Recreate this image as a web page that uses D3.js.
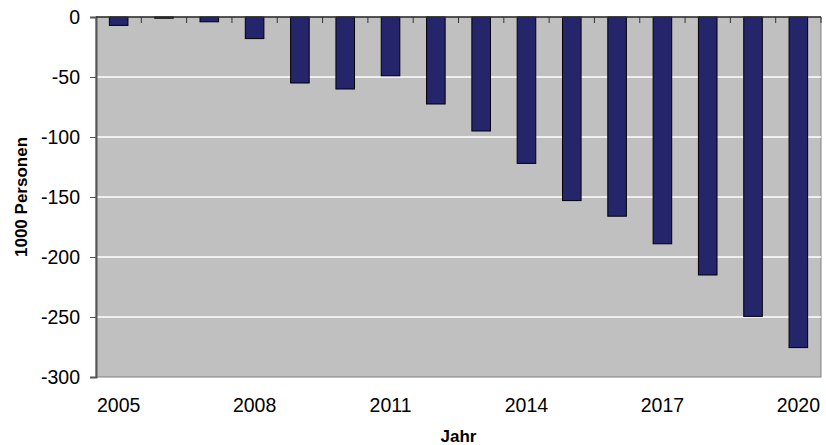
<!DOCTYPE html>
<html>
<head>
<meta charset="utf-8">
<script src="https://cdn.jsdelivr.net/npm/d3@7"></script>
<style>
  body { margin: 0; background: #fff; }
  text { font-family: "Liberation Sans", Arial, sans-serif; fill: #000; }
</style>
</head>
<body>
<div id="chart"></div>
<script>
// Data
var years = [2005, 2006, 2007, 2008, 2009, 2010, 2011, 2012, 2013, 2014, 2015, 2016, 2017, 2018, 2019, 2020];
var values = [-7, -1, -4, -18, -55, -60, -49, -72.5, -95, -122, -153, -166, -189, -215, -249.5, -275.5];
var yTicks = [0, -50, -100, -150, -200, -250, -300];
var xLabelYears = [2005, 2008, 2011, 2014, 2017, 2020];

var width = 826, height = 445;
var margin = {top: 17, right: 5, bottom: 68, left: 96};
var plotW = width - margin.left - margin.right,
    plotH = height - margin.top - margin.bottom;

var svg = d3.select("#chart").append("svg")
    .attr("width", width)
    .attr("height", height);

var g = svg.append("g")
    .attr("transform", "translate(" + margin.left + "," + margin.top + ")");

var x = d3.scaleBand().domain(years).range([0, plotW]).paddingInner(0.59).paddingOuter(0.295);
var xb = d3.scaleBand().domain(years).range([0, plotW]);
var y = d3.scaleLinear().domain([-300, 0]).range([plotH, 0]);

// plot background
g.append("rect")
    .attr("width", plotW).attr("height", plotH)
    .attr("fill", "#c0c0c0")
    .attr("stroke", "#808080").attr("stroke-width", 1);

// gridlines
g.selectAll("line.grid")
    .data(yTicks.filter(function(d) { return d !== 0 && d !== -300; }))
    .enter().append("line")
    .attr("class", "grid")
    .attr("x1", 0).attr("x2", plotW)
    .attr("y1", function(d) { return y(d); })
    .attr("y2", function(d) { return y(d); })
    .attr("stroke", "#fff").attr("stroke-width", 1.5);

// bars
g.selectAll("rect.bar")
    .data(years)
    .enter().append("rect")
    .attr("class", "bar")
    .attr("x", function(d) { return x(d); })
    .attr("width", x.bandwidth())
    .attr("y", y(0))
    .attr("height", function(d, i) { return y(values[i]) - y(0); })
    .attr("fill", "#25256b")
    .attr("stroke", "#000").attr("stroke-width", 1);

// y axis
var yAxis = g.append("g")
    .call(d3.axisLeft(y).tickValues(yTicks).tickSize(6).tickPadding(10).tickFormat(d3.format("d")));
yAxis.select(".domain").attr("stroke", "#555").attr("stroke-width", 2);
yAxis.selectAll(".tick line").attr("stroke", "#555");
yAxis.selectAll("text")
    .style("font-size", "19.5px")
    .attr("fill", "#000")
    .text(function(d) { return d === 0 ? "0" : "-" + Math.abs(d); });

// zero line with band-boundary ticks
g.append("line")
    .attr("x1", 0).attr("x2", plotW)
    .attr("y1", y(0)).attr("y2", y(0))
    .attr("stroke", "#333").attr("stroke-width", 1.5);
g.selectAll("line.xtick")
    .data(years)
    .enter().append("line")
    .attr("class", "xtick")
    .attr("x1", function(d) { return xb(d) + xb.bandwidth(); })
    .attr("x2", function(d) { return xb(d) + xb.bandwidth(); })
    .attr("y1", y(0)).attr("y2", y(0) + 6)
    .attr("stroke", "#333").attr("stroke-width", 1);

// x labels below plot
g.selectAll("text.xlab")
    .data(xLabelYears)
    .enter().append("text")
    .attr("class", "xlab")
    .attr("x", function(d) { return xb(d) + xb.bandwidth() / 2; })
    .attr("y", plotH + 35)
    .attr("text-anchor", "middle")
    .style("font-size", "19.5px")
    .text(function(d) { return d; });

// axis titles
svg.append("text")
    .attr("x", margin.left + plotW / 2)
    .attr("y", 442)
    .attr("text-anchor", "middle")
    .style("font-size", "17px")
    .style("font-weight", "bold")
    .text("Jahr");

svg.append("text")
    .attr("transform", "translate(27," + (margin.top + plotH / 2) + ") rotate(-90)")
    .attr("text-anchor", "middle")
    .style("font-size", "17px")
    .style("font-weight", "bold")
    .text("1000 Personen");
</script>
</body>
</html>
